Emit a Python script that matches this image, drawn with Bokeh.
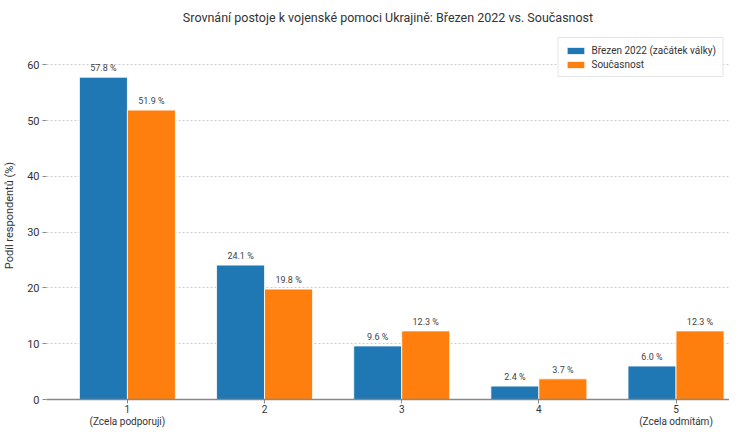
from bokeh.plotting import figure
from bokeh.models import ColumnDataSource, Range1d, FixedTicker, Legend, LegendItem, LinearAxis
from bokeh.transform import dodge
from bokeh.core.properties import value
from bokeh.embed import file_html
from bokeh.resources import INLINE

categories = [1, 2, 3, 4, 5]
tick_labels = ["1", "2", "3", "4", "5"]
tick_sublabels = ["(Zcela podporuji)", "", "", "", "(Zcela odmítám)"]
series_names = ["Březen 2022 (začátek války)", "Současnost"]
march_2022 = [57.8, 24.1, 9.6, 2.4, 6.0]
current = [51.9, 19.8, 12.3, 3.7, 12.3]
subtitle = "Srovnání postoje k vojenské pomoci Ukrajině: Březen 2022 vs. Současnost"
y_label = "Podíl respondentů (%)"

FONT = "Roboto"
BLUE = "#1f77b4"
ORANGE = "#ff7f0e"
W = 0.35

src = ColumnDataSource(dict(
    x=categories,
    a=march_2022,
    b=current,
    la=[f"{v:.1f} %" for v in march_2022],
    lb=[f"{v:.1f} %" for v in current],
))

p = figure(width=729, height=429, output_backend="svg", toolbar_location=None,
           x_range=Range1d(0.41, 5.39), y_range=Range1d(0, 66),
           min_border_left=0, min_border_right=0, min_border_bottom=0, min_border_top=0)

p.title.text = subtitle
p.title.align = "center"
p.title.text_font = FONT
p.title.text_font_size = "12.5px"
p.title.text_font_style = "normal"
p.title.text_color = "#333333"
p.title.standoff = 14

r1 = p.vbar(x=dodge("x", -W / 2, range=p.x_range), top="a", width=W, source=src,
            fill_color=BLUE, line_color="white", line_width=0.8)
r2 = p.vbar(x=dodge("x", W / 2, range=p.x_range), top="b", width=W, source=src,
            fill_color=ORANGE, line_color="white", line_width=0.8)

for col, lab, off in (("a", "la", -W / 2), ("b", "lb", W / 2)):
    p.text(x=dodge("x", off, range=p.x_range), y=col, text=lab, source=src,
           text_align="center", text_baseline="bottom", y_offset=-4,
           text_font=value(FONT), text_font_size="9px", text_color="#444444")

p.outline_line_color = None
p.xgrid.grid_line_color = None
p.ygrid.grid_line_color = "#cccccc"
p.ygrid.grid_line_dash = "2 2"
p.ygrid.grid_line_width = 1

p.yaxis.ticker = FixedTicker(ticks=[0, 10, 20, 30, 40, 50, 60])
p.yaxis.axis_line_color = None
p.yaxis.major_tick_line_color = "#888888"
p.yaxis.major_tick_out = 4
p.yaxis.major_tick_in = 0
p.yaxis.minor_tick_line_color = None
p.yaxis.major_label_text_font = FONT
p.yaxis.major_label_text_font_size = "11px"
p.yaxis.major_label_text_color = "#333333"
p.yaxis.major_label_standoff = 3
p.yaxis.axis_label = y_label
p.yaxis.axis_label_text_font = FONT
p.yaxis.axis_label_text_font_size = "11px"
p.yaxis.axis_label_text_font_style = "normal"
p.yaxis.axis_label_text_color = "#333333"
p.yaxis.axis_label_standoff = 8

p.xaxis.ticker = FixedTicker(ticks=categories)
p.xaxis.major_label_overrides = {c: t for c, t in zip(categories, tick_labels)}
p.xaxis.axis_line_color = "#888888"
p.xaxis.axis_line_width = 1.5
p.xaxis.major_tick_line_color = "#888888"
p.xaxis.major_tick_out = 4
p.xaxis.major_tick_in = 0
p.xaxis.minor_tick_line_color = None
p.xaxis.major_label_text_font = FONT
p.xaxis.major_label_text_font_size = "10px"
p.xaxis.major_label_text_color = "#333333"
p.xaxis.major_label_standoff = 1

sub_ticks = [c for c, s in zip(categories, tick_sublabels) if s]
sub_axis = LinearAxis(ticker=FixedTicker(ticks=sub_ticks),
                      major_label_overrides={c: s for c, s in zip(categories, tick_sublabels) if s})
sub_axis.axis_line_color = None
sub_axis.major_tick_line_color = None
sub_axis.minor_tick_line_color = None
sub_axis.major_tick_out = 0
sub_axis.major_tick_in = 0
sub_axis.major_label_standoff = 0
sub_axis.major_label_text_font = FONT
sub_axis.major_label_text_font_size = "10px"
sub_axis.major_label_text_color = "#333333"
p.add_layout(sub_axis, "below")

legend = Legend(items=[LegendItem(label=series_names[0], renderers=[r1]),
                       LegendItem(label=series_names[1], renderers=[r2])],
                location="top_right")
legend.label_text_font = FONT
legend.label_text_font_size = "10px"
legend.label_text_color = "#333333"
legend.glyph_width = 22
legend.glyph_height = 9
legend.label_height = 12
legend.spacing = 2
legend.padding = 6
legend.margin = 6
legend.border_line_color = "#cccccc"
legend.background_fill_alpha = 0.9
p.add_layout(legend)

open("out.html", "w").write(file_html(p, INLINE))
